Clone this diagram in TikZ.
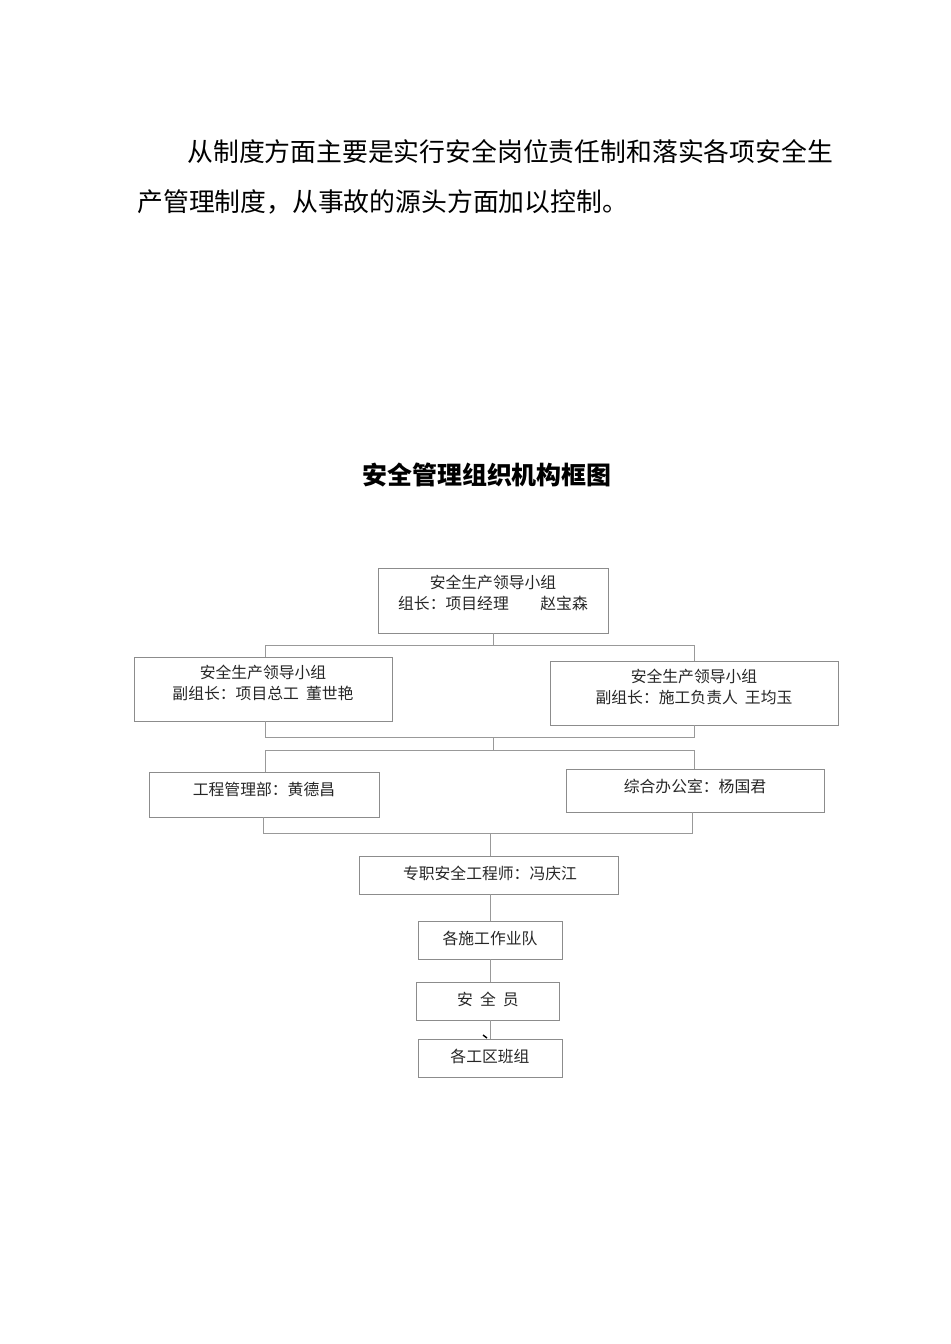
\documentclass[tikz,border=0pt]{standalone}
\usepackage{fontspec}
\setmainfont{Noto Sans CJK SC}
\begin{document}
\begin{tikzpicture}[x=0.02cm,y=-0.02cm,
  box/.style={draw=black!45,line width=0.5pt},
  ln/.style={draw=black!40,line width=0.5pt},
  lbl/.style={font=\fontsize{9pt}{11.5pt}\selectfont,align=center,inner sep=0pt,text=black!85}]
\useasboundingbox (0,0) rectangle (950,1344);
\node[anchor=west,font=\fontsize{14.7pt}{18pt}\selectfont,inner sep=0pt] (p1) at (187,152) {从制度方面主要是实行安全岗位责任制和落实各项安全生};
\node[anchor=west,font=\fontsize{14.7pt}{18pt}\selectfont,inner sep=0pt] (p2) at (137,202) {产管理制度，从事故的源头方面加以控制。};
\node[font=\fontsize{14.2pt}{17pt}\selectfont\bfseries,inner sep=0pt] (title) at (487,475) {安全管理组织机构框图};
% boxes
\draw[box] (378,568) rectangle (608,633);
\draw[box] (134,657) rectangle (392,721);
\draw[box] (550,661) rectangle (838,725);
\draw[box] (149,772) rectangle (379,817);
\draw[box] (566,769) rectangle (824,812);
\draw[box] (359,856) rectangle (618,894);
\draw[box] (418,921) rectangle (562,959);
\draw[box] (416,982) rectangle (559,1020);
\draw[box] (418,1039) rectangle (562,1077);
% texts
\node[lbl] (t1) at (493,593) {安全生产领导小组\\组长：项目经理\quad\quad 赵宝森};
\node[lbl] (t2) at (263,683) {安全生产领导小组\\副组长：项目总工\ \ 董世艳};
\node[lbl] (t3) at (694,687) {安全生产领导小组\\副组长：施工负责人\ \ 王均玉};
\node[lbl] (t4) at (264,789) {工程管理部：黄德昌};
\node[lbl] (t5) at (695,786) {综合办公室：杨国君};
\node[lbl] (t6) at (490,873) {专职安全工程师：冯庆江};
\node[lbl] (t7) at (490,938) {各施工作业队};
\node[lbl] (t8) at (488,999) {安\ \ 全\ \ 员};
\node[lbl] (t9) at (490,1056) {各工区班组};
% connectors
\coordinate (a1) at (493,633); \coordinate (a2) at (493,645);
\draw[ln] (a1) -- (a2);
\draw[ln] (265,657) |- (694,645) -- (694,661);
\draw[ln] (265,721) |- (694,737) -- (694,725);
\draw[ln] (493,737) -- (493,750);
\draw[ln] (265,772) |- (694,750) -- (694,769);
\draw[ln] (263,817) |- (692,833) -- (692,812);
\draw[ln] (490,833) -- (490,856);
\draw[ln] (490,894) -- (490,921);
\draw[ln] (490,959) -- (490,982);
\draw[ln] (490,1020) -- (490,1039);
\draw[black,line width=0.8pt] (483,1035) -- (487,1038);
\end{tikzpicture}
\end{document}
